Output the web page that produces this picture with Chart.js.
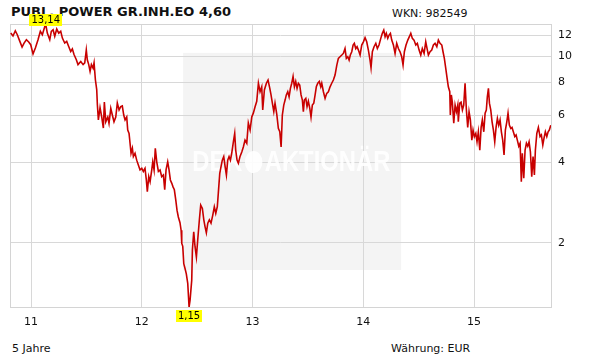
<!DOCTYPE html>
<html>
<head>
<meta charset="utf-8">
<script src="https://cdn.jsdelivr.net/npm/chart.js@4"></script>
<style>
  html, body { margin: 0; padding: 0; background: #fff; }
  #wrap { position: relative; width: 611px; height: 364px; font-family: "DejaVu Sans", Verdana, sans-serif; color: #111; }
  #wrap div { position: absolute; white-space: nowrap; line-height: 1; }
  #title { left: 11px; top: 5px; font-size: 13px; font-weight: bold; }
  #wkn { left: 392px; top: 8px; font-size: 11px; }
  #period { left: 12px; top: 343px; font-size: 11px; }
  #currency { left: 391px; top: 343px; font-size: 11px; }
  canvas { position: absolute; left: 0; top: 0; }
</style>
</head>
<body>
<div id="wrap">
  <div id="title">PUBL. POWER GR.INH.EO 4,60</div>
  <div id="wkn">WKN: 982549</div>
  <div id="period">5 Jahre</div>
  <div id="currency">Währung: EUR</div>
  <canvas id="chart" width="611" height="364"></canvas>
</div>
<script>
// decimal year of each reading
const dates = [
  2010.817, 2010.837, 2010.858, 2010.876, 2010.898, 2010.919, 2010.937, 2010.958, 2010.979, 2010.997,
  2011.018, 2011.039, 2011.063, 2011.084, 2011.102, 2011.124, 2011.133, 2011.147, 2011.169, 2011.183,
  2011.199, 2011.214, 2011.232, 2011.25, 2011.268, 2011.283, 2011.304, 2011.322, 2011.34, 2011.358,
  2011.373, 2011.388, 2011.409, 2011.424, 2011.449, 2011.47, 2011.485, 2011.499, 2011.508, 2011.521,
  2011.533, 2011.545, 2011.56, 2011.569, 2011.581, 2011.593, 2011.599, 2011.608, 2011.623, 2011.638,
  2011.653, 2011.662, 2011.675, 2011.693, 2011.704, 2011.72, 2011.734, 2011.749, 2011.765, 2011.779,
  2011.795, 2011.81, 2011.824, 2011.837, 2011.849, 2011.864, 2011.873, 2011.885, 2011.894, 2011.903,
  2011.915, 2011.924, 2011.939, 2011.954, 2011.969, 2011.984, 2012.0, 2012.014, 2012.029, 2012.041,
  2012.05, 2012.063, 2012.075, 2012.09, 2012.099, 2012.111, 2012.122, 2012.135, 2012.15, 2012.165,
  2012.18, 2012.195, 2012.207, 2012.219, 2012.234, 2012.246, 2012.258, 2012.271, 2012.282, 2012.294,
  2012.307, 2012.318, 2012.33, 2012.345, 2012.355, 2012.361, 2012.37, 2012.379, 2012.391, 2012.402,
  2012.415, 2012.427, 2012.436, 2012.451, 2012.457, 2012.469, 2012.481, 2012.493, 2012.505, 2012.52,
  2012.532, 2012.547, 2012.56, 2012.571, 2012.583, 2012.596, 2012.61, 2012.625, 2012.641, 2012.655,
  2012.668, 2012.682, 2012.691, 2012.704, 2012.716, 2012.727, 2012.74, 2012.752, 2012.764, 2012.776,
  2012.788, 2012.8, 2012.812, 2012.827, 2012.839, 2012.848, 2012.86, 2012.872, 2012.887, 2012.903,
  2012.917, 2012.932, 2012.948, 2012.962, 2012.978, 2012.993, 2013.007, 2013.023, 2013.038, 2013.053,
  2013.068, 2013.083, 2013.092, 2013.107, 2013.125, 2013.14, 2013.156, 2013.167, 2013.179, 2013.192,
  2013.203, 2013.219, 2013.233, 2013.246, 2013.258, 2013.269, 2013.282, 2013.294, 2013.305, 2013.318,
  2013.33, 2013.342, 2013.354, 2013.366, 2013.378, 2013.39, 2013.402, 2013.414, 2013.426, 2013.438,
  2013.45, 2013.459, 2013.468, 2013.481, 2013.492, 2013.504, 2013.517, 2013.528, 2013.54, 2013.553,
  2013.565, 2013.576, 2013.589, 2013.603, 2013.616, 2013.625, 2013.64, 2013.655, 2013.67, 2013.685,
  2013.7, 2013.715, 2013.73, 2013.745, 2013.761, 2013.775, 2013.79, 2013.806, 2013.82, 2013.835,
  2013.847, 2013.86, 2013.872, 2013.883, 2013.896, 2013.908, 2013.919, 2013.932, 2013.944, 2013.956,
  2013.971, 2013.986, 2014.001, 2014.016, 2014.031, 2014.046, 2014.061, 2014.07, 2014.082, 2014.097,
  2014.113, 2014.127, 2014.142, 2014.158, 2014.172, 2014.185, 2014.197, 2014.208, 2014.221, 2014.233,
  2014.245, 2014.257, 2014.272, 2014.287, 2014.302, 2014.317, 2014.332, 2014.347, 2014.359, 2014.371,
  2014.386, 2014.402, 2014.416, 2014.429, 2014.443, 2014.458, 2014.474, 2014.488, 2014.504, 2014.519,
  2014.533, 2014.549, 2014.564, 2014.576, 2014.588, 2014.603, 2014.618, 2014.633, 2014.648, 2014.664,
  2014.678, 2014.693, 2014.709, 2014.72, 2014.732, 2014.745, 2014.757, 2014.768, 2014.781, 2014.786,
  2014.795, 2014.804, 2014.817, 2014.829, 2014.841, 2014.853, 2014.858, 2014.871, 2014.883, 2014.895,
  2014.907, 2014.919, 2014.931, 2014.943, 2014.955, 2014.967, 2014.98, 2014.991, 2015.003, 2015.016,
  2015.027, 2015.039, 2015.052, 2015.064, 2015.075, 2015.088, 2015.1, 2015.111, 2015.12, 2015.13,
  2015.139, 2015.151, 2015.163, 2015.175, 2015.187, 2015.199, 2015.211, 2015.223, 2015.235, 2015.247,
  2015.259, 2015.271, 2015.283, 2015.296, 2015.307, 2015.319, 2015.332, 2015.343, 2015.355, 2015.368,
  2015.38, 2015.391, 2015.404, 2015.416, 2015.427, 2015.436, 2015.449, 2015.461, 2015.473, 2015.485,
  2015.497, 2015.509, 2015.521, 2015.533, 2015.545, 2015.554, 2015.567, 2015.581, 2015.596, 2015.608,
  2015.621, 2015.632, 2015.644, 2015.657, 2015.669, 2015.68, 2015.693
];

// price in EUR
const prices = [
  12.21, 11.9, 12.45, 12.03, 11.39, 10.82, 11.2, 11.52, 11.3, 11.04,
  10.2, 10.73, 11.52, 12.39, 12.03, 12.92, 13.14, 12.2, 11.52, 12.39,
  12.56, 11.87, 12.64, 12.2, 12.39, 11.69, 11.2, 11.36, 10.87, 10.41,
  10.64, 10.14, 9.7, 9.3, 9.56, 9.3, 9.44, 10.55, 9.7, 9.3,
  8.78, 9.3, 9.02, 9.44, 8.16, 7.5, 6.58, 5.77, 6.42, 5.92,
  5.38, 6.73, 5.68, 5.92, 5.61, 6.38, 6.02, 5.68, 5.92, 6.68,
  6.29, 6.47, 6.51, 6.02, 5.77, 5.92, 5.29, 5.14, 4.72, 4.33,
  4.52, 4.21, 4.33, 4.08, 3.91, 3.75, 3.8, 3.7, 3.8, 3.44,
  3.11, 3.54, 3.39, 3.75, 4.02, 3.75, 4.52, 4.02, 3.7, 3.75,
  3.54, 3.59, 3.16, 3.75, 4.02, 3.75, 3.44, 3.34, 3.24, 3.16,
  2.89, 2.65, 2.5, 2.38, 2.23, 1.99, 1.94, 1.67, 1.6, 1.53,
  1.41, 1.15, 1.22, 1.45, 1.88, 2.2, 1.93, 1.77, 2.05, 2.44,
  2.77, 2.69, 2.44, 2.3, 2.18, 2.37, 2.44, 2.37, 2.54, 2.73,
  2.58, 2.73, 3.07, 3.64, 3.87, 4.08, 4.21, 3.87, 3.59, 4.08,
  4.21, 4.08, 4.33, 4.78, 5.14, 4.45, 4.08, 3.97, 4.21, 4.38,
  4.57, 4.85, 4.72, 5.62, 5.29, 5.92, 6.12, 6.47, 6.78, 7.92,
  7.36, 7.68, 6.29, 7.47, 7.92, 8.14, 7.58, 7.16, 6.67, 6.2,
  6.67, 6.05, 5.37, 5.21, 4.57, 6.02, 6.56, 6.85, 7.16, 7.36,
  7.04, 7.58, 7.92, 8.39, 7.68, 8.04, 7.58, 7.92, 7.8, 7.16,
  6.85, 6.2, 6.85, 6.95, 6.47, 6.78, 6.38, 5.92, 6.56, 6.67,
  7.16, 7.68, 7.92, 8.04, 7.68, 7.92, 7.36, 6.95, 7.26, 7.36,
  7.68, 7.92, 8.14, 8.5, 9.26, 9.81, 9.95, 10.1, 10.24, 10.68,
  9.81, 9.95, 9.67, 10.1, 10.39, 11.01, 11.17, 10.68, 10.85, 10.54,
  10.1, 11.01, 11.32, 11.74, 11.32, 10.54, 9.67, 9.05, 10.39, 10.85,
  11.17, 10.68, 11.01, 11.66, 12.18, 12.53, 11.83, 12.18, 11.66, 12.0,
  12.18, 11.49, 11.01, 10.24, 11.17, 10.68, 10.39, 9.95, 9.26, 10.39,
  11.01, 11.49, 11.83, 12.18, 11.66, 11.49, 11.01, 11.17, 10.54, 10.1,
  10.68, 10.24, 11.32, 10.68, 10.1, 10.39, 10.54, 11.01, 11.17, 10.85,
  11.49, 11.17, 11.01, 10.39, 9.81, 8.98, 8.26, 7.68, 7.36, 6.02,
  7.16, 6.73, 5.61, 6.56, 6.2, 6.56, 5.68, 6.67, 6.73, 6.29,
  6.56, 7.92, 6.29, 5.41, 6.2, 5.77, 4.85, 5.29, 5.0, 5.14,
  4.78, 5.21, 4.45, 5.41, 5.77, 5.21, 6.12, 6.29, 7.04, 7.58,
  6.67, 6.29, 5.68, 5.29, 4.78, 5.41, 5.85, 5.52, 5.77, 5.21,
  4.85, 4.27, 5.29, 5.68, 6.12, 5.52, 5.36, 5.41, 5.21, 5.0,
  5.07, 4.85, 4.6, 4.72, 3.39, 4.33, 3.49, 4.45, 4.72, 4.6,
  4.78, 4.38, 3.54, 4.21, 3.59, 4.45, 5.14, 5.41, 5.0, 5.07,
  4.65, 4.93, 5.21, 5.0, 5.21, 5.29, 5.52
];

const yTicks = [2, 4, 6, 8, 10, 12];
const xTicks = [2011, 2012, 2013, 2014, 2015];

const fmt = v => v.toFixed(2).replace('.', ',');

// grey backdrop with the faint publisher watermark, plot frame, max/min tags
const chartDecor = {
  id: 'chartDecor',
  beforeDraw(chart) {
    const { ctx, chartArea: a } = chart;
    const w = a.right - a.left, h = a.bottom - a.top;
    ctx.save();
    ctx.fillStyle = '#f4f4f4';
    ctx.fillRect(a.left + w * 0.32, a.top + h * 0.102, w * 0.403, h * 0.767);
    ctx.restore();
  },
  beforeDatasetsDraw(chart) {
    const { ctx, chartArea: a } = chart;
    const w = a.right - a.left, h = a.bottom - a.top;
    ctx.save();
    // watermark
    const cx = a.left + w * 0.52, cy = a.top + h * 0.488, target = w * 0.366;
    ctx.font = 'bold 30px "Liberation Sans"';
    ctx.textBaseline = 'middle';
    const w1 = ctx.measureText('DER').width, w2 = ctx.measureText('AKTIONÄR').width;
    const r = 11, gap = 3;
    const total = w1 + gap + 2 * r + gap + w2;
    ctx.translate(cx - target / 2, cy);
    ctx.scale(target / total, 1);
    ctx.fillStyle = 'rgba(255,255,255,0.9)';
    ctx.fillText('DER', 0, 1);
    ctx.beginPath();
    ctx.arc(w1 + gap + r, 0, r, 0, Math.PI * 2);
    ctx.fill();
    ctx.fillText('AKTIONÄR', w1 + 2 * gap + 2 * r, 1);
    ctx.restore();
    // frame
    ctx.save();
    ctx.strokeStyle = '#d4d4d4';
    ctx.lineWidth = 1;
    ctx.strokeRect(Math.round(a.left) + 0.5, Math.round(a.top) + 0.5,
      Math.round(w), Math.round(h));
    ctx.restore();
  },
  afterDatasetsDraw(chart) {
    const { ctx, scales: { x, y } } = chart;
    const hi = Math.max(...prices), lo = Math.min(...prices);
    const iHi = prices.indexOf(hi), iLo = prices.indexOf(lo);
    ctx.save();
    ctx.font = '10px "DejaVu Sans"';
    ctx.textAlign = 'center';
    ctx.textBaseline = 'middle';
    const tag = (txt, px, py, above) => {
      const tw = ctx.measureText(txt).width + 4, th = 12;
      const top = above ? py - th + 1 : py + 3;
      ctx.fillStyle = '#ffff00';
      ctx.fillRect(Math.round(px - tw / 2), Math.round(top), Math.round(tw), th);
      ctx.fillStyle = '#000';
      ctx.fillText(txt, px, top + th / 2 + 0.5);
    };
    tag(fmt(hi), x.getPixelForValue(dates[iHi]), y.getPixelForValue(hi), true);
    tag(fmt(lo), x.getPixelForValue(dates[iLo]), y.getPixelForValue(lo), false);
    ctx.restore();
  }
};

const tickFont = { family: '"DejaVu Sans", Verdana, sans-serif', size: 11 };

new Chart(document.getElementById('chart'), {
  type: 'line',
  data: {
    datasets: [{
      data: dates.map((d, i) => ({ x: d, y: prices[i] })),
      borderColor: '#c80000',
      borderWidth: 1.6,
      pointRadius: 0,
      tension: 0,
      fill: false
    }]
  },
  options: {
    responsive: false,
    animation: false,
    devicePixelRatio: 1,
    layout: { padding: { left: 10, top: 24, right: 0, bottom: 0 } },
    plugins: { legend: { display: false }, tooltip: { enabled: false } },
    scales: {
      x: {
        type: 'linear',
        min: 2010.81,
        max: 2015.695,
        afterBuildTicks: s => { s.ticks = xTicks.map(v => ({ value: v })); },
        afterFit: s => { s.height = 57; },
        grid: { color: '#d8d8d8', drawTicks: false },
        border: { color: '#d4d4d4' },
        ticks: { padding: 9, maxRotation: 0, color: '#111', font: tickFont,
          callback: v => String(v).slice(2) }
      },
      y: {
        type: 'logarithmic',
        position: 'right',
        min: 1.15,
        max: 13.2,
        afterBuildTicks: s => { s.ticks = yTicks.map(v => ({ value: v })); },
        afterFit: s => { s.width = 60; },
        grid: { color: '#d8d8d8', drawTicks: false },
        border: { color: '#d4d4d4' },
        ticks: { padding: 7, color: '#111', font: tickFont, callback: v => String(v) }
      }
    }
  },
  plugins: [chartDecor]
});
</script>
</body>
</html>
